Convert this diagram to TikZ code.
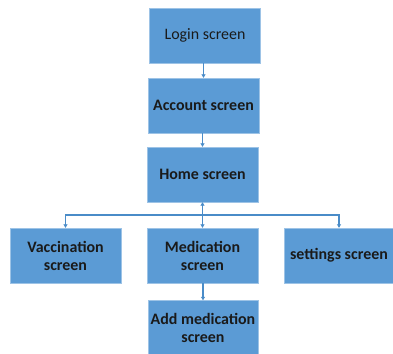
\documentclass[tikz,border=0pt]{standalone}
\usepackage{fontspec}
\setmainfont{Carlito}
\usetikzlibrary{arrows.meta}
\definecolor{boxblue}{HTML}{5B9BD5}
\definecolor{lineblue}{HTML}{4A8CC8}
\definecolor{txt}{HTML}{1A1A1A}
\begin{document}
\begin{tikzpicture}[x=1bp,y=-1bp,
  scrbox/.style={draw=boxblue!60!white,line width=0.4bp,fill=boxblue,minimum width=111bp,minimum height=55bp,inner sep=1bp,align=center,font=\fontsize{16}{18}\selectfont\bfseries,text=txt},
  conn/.style={draw=lineblue,line width=1.1bp,-{Triangle[length=3.5bp,width=4bp]}}]
\useasboundingbox (0,0) rectangle (393,354);
\node[scrbox,font=\fontsize{16}{18}\selectfont] (login) at (205,35.5) {Login screen};
\node[scrbox] (account) at (203.5,105.5) {Account screen};
\node[scrbox] (home) at (202.5,174.5) {Home screen};
\node[scrbox] (vacc) at (65.5,255.5) {Vaccination\\screen};
\node[scrbox] (med) at (202.5,255.5) {Medication\\screen};
\node[scrbox,minimum width=110bp] (set) at (339,255.5) {settings screen};
\node[scrbox,minimum width=110bp] (add) at (203,328) {Add medication\\screen};
\coordinate (bus) at (202.5,215);
\draw[conn] (login.south -| account.north) -- (account.north);
\draw[conn] (account.south -| home.north) -- (home.north);
\draw[conn] (bus) -- (home.south);
\draw[conn] (bus) -- (med.north);
\draw[conn] (bus) -| (vacc.north);
\draw[conn] (bus) -| (set.north);
\draw[conn] (med.south -| add.north) -- (add.north);
\end{tikzpicture}
\end{document}
